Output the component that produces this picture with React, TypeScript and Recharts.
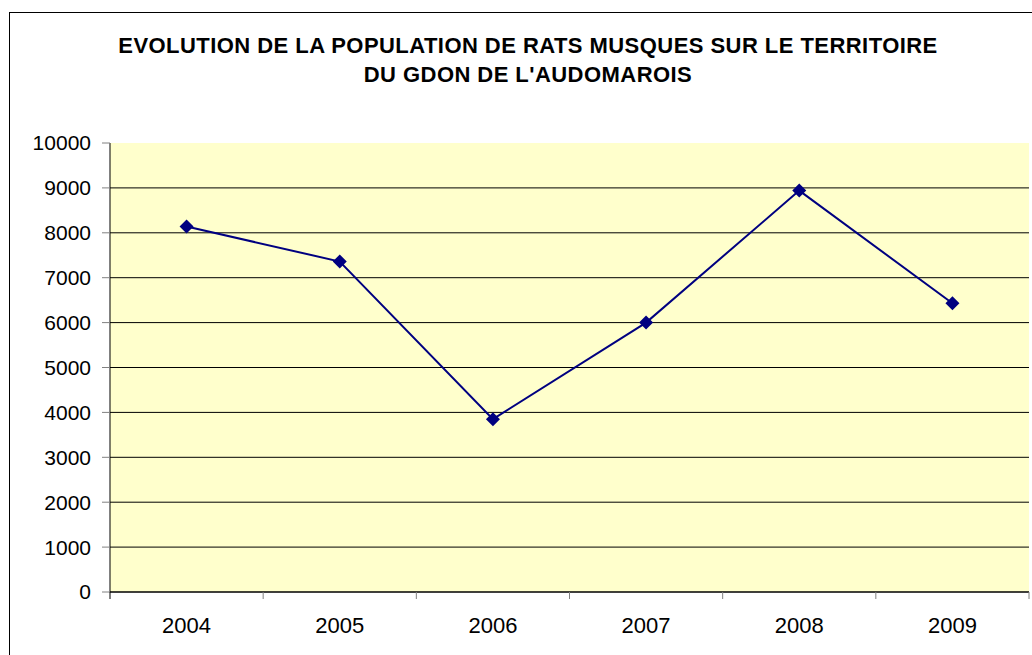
import React from 'react';
import { LineChart, Line, XAxis, YAxis, CartesianGrid } from 'recharts';

const YEARS = ['2004', '2005', '2006', '2007', '2008', '2009'];
const POPULATION = [8140, 7360, 3850, 6000, 8940, 6430];
const Y_TICKS = [0, 1000, 2000, 3000, 4000, 5000, 6000, 7000, 8000, 9000, 10000];
const GRID_VALUES = Y_TICKS.slice(0, -1);

const TITLE_LINES = [
  'EVOLUTION DE LA POPULATION DE RATS MUSQUES SUR LE TERRITOIRE',
  "DU GDON DE L'AUDOMAROIS",
];

const data = YEARS.map((year, i) => ({ year, value: POPULATION[i] }));

// layout
const W = 1032;
const H = 655;
const AXIS_W = 110;
const RIGHT = 3;
const TOP = 143;
const X_AXIS_H = 63;
const BAND = (W - AXIS_W - RIGHT) / YEARS.length;
const FONT = '"Liberation Sans", Arial, sans-serif';
const NAVY = '#000080';

const Diamond = (props: any) => {
  const { cx, cy } = props;
  if (cx == null || cy == null) return null;
  const r = 7;
  return (
    <polygon
      points={`${cx},${cy - r} ${cx + r},${cy} ${cx},${cy + r} ${cx - r},${cy}`}
      fill={NAVY}
    />
  );
};

const YearTick = (props: any) => {
  const { x, y, payload, index } = props;
  const axisY = y - 8;
  const left = x - BAND / 2;
  const right = x + BAND / 2;
  return (
    <g>
      <line x1={left} y1={axisY} x2={left} y2={axisY + 7} stroke={index === 0 ? '#000' : '#808080'} />
      {index === YEARS.length - 1 && (
        <line x1={right} y1={axisY} x2={right} y2={axisY + 7} stroke="#808080" />
      )}
      <text x={x} y={axisY + 33} dy="0.355em" textAnchor="middle" fontSize={22} fontFamily={FONT} fill="#000">
        {payload.value}
      </text>
    </g>
  );
};

export default function App() {
  return (
    <div style={{ position: 'absolute', left: 0, top: 0, width: W, height: H, overflow: 'hidden', background: '#fff' }}>
      <div
        style={{
          position: 'absolute',
          left: 9,
          top: 12,
          width: W + 20,
          height: H + 20,
          border: '1px solid #000',
        }}
      />
      <div style={{ position: 'absolute', left: 0, top: 0 }}>
        <LineChart width={W} height={H} data={data} margin={{ top: TOP, right: RIGHT, left: 0, bottom: 0 }}>
          <CartesianGrid
            vertical={false}
            horizontalValues={GRID_VALUES}
            stroke="#000"
            fill="#FFFFCC"
            fillOpacity={1}
          />
          <XAxis
            dataKey="year"
            scale="band"
            height={X_AXIS_H}
            axisLine={{ stroke: '#000' }}
            tickLine={false}
            tickSize={8}
            tickMargin={0}
            tick={<YearTick />}
            interval={0}
          />
          <YAxis
            width={AXIS_W}
            domain={[0, 10000]}
            ticks={Y_TICKS}
            interval={0}
            axisLine={{ stroke: '#000' }}
            tickLine={{ stroke: '#808080' }}
            tickSize={8}
            tickMargin={11}
            tick={{ fontSize: 21, fontFamily: FONT, fill: '#000' }}
          />
          <Line
            type="linear"
            dataKey="value"
            stroke={NAVY}
            strokeWidth={2}
            dot={<Diamond />}
            activeDot={false}
            isAnimationActive={false}
          />
        </LineChart>
      </div>
      <div
        style={{
          position: 'absolute',
          left: 28,
          top: 31,
          width: 1000,
          textAlign: 'center',
          fontFamily: FONT,
          fontWeight: 'bold',
          fontSize: 22,
          lineHeight: '29px',
          letterSpacing: 0.45,
          color: '#000',
        }}
      >
        {TITLE_LINES.map((t) => (
          <div key={t}>{t}</div>
        ))}
      </div>
    </div>
  );
}
